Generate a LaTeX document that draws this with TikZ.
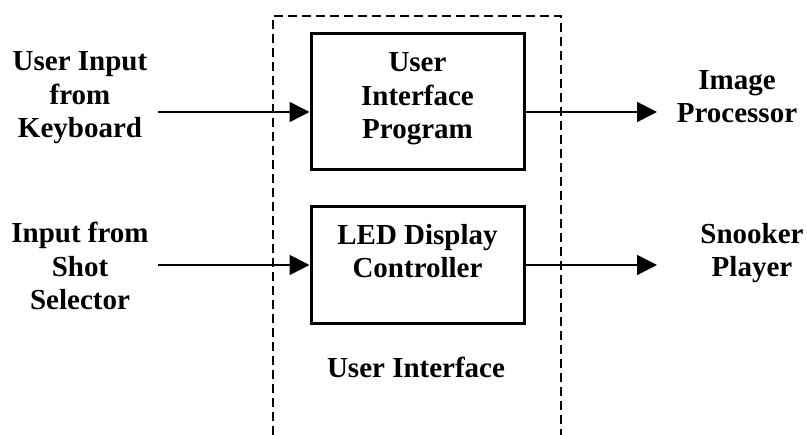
\documentclass[tikz,border=0pt]{standalone}
\usepackage{fontspec}
\setmainfont{Liberation Serif}
\usetikzlibrary{arrows.meta}
\begin{document}
\begin{tikzpicture}[x=1pt,y=-1pt,
  lbl/.style={font=\bfseries\fontsize{29}{33.5}\selectfont, align=center, inner sep=0pt, anchor=base},
  blk/.style={draw, line width=3pt, minimum width=213pt, minimum height=#1, inner sep=0pt},
  arr/.style={line width=1.6pt, -{Triangle[length=20pt,width=20pt]}},
  dsh/.style={line width=1.6pt, dash pattern=on 9pt off 5pt}]
\useasboundingbox (0,0) rectangle (807,435);
% dashed enclosure (open at the bottom)
\draw[dsh] (273,435) -- (273,16) -- (561,16) -- (561,435);
% blocks
\node[blk=136pt] (ui) at (417.5,102) {};
\node[blk=117pt] (led) at (417.5,265.5) {};
% texts (anchored at the baseline of their last line)
\node[lbl] (uit) at (417.5,139) {User\\Interface\\Program};
\node[lbl] (ledt) at (417.5,278) {LED Display\\Controller};
\node[lbl] (kb) at (80,138) {User Input\\from\\Keyboard};
\node[lbl] (ss) at (80,310) {Input from\\Shot\\Selector};
\node[lbl] (ip) at (737,123) {Image\\Processor};
\node[lbl] (sp) at (752,277) {Snooker\\Player};
\node[lbl] (uif) at (416,378) {User Interface};
% connector ends
\coordinate (kbo) at (158,112);
\coordinate (sso) at (158,265);
\coordinate (ipi) at (657,112);
\coordinate (spi) at (657,265);
\draw[arr] (kbo) -- (kbo -| ui.west);
\draw[arr] (sso) -- (sso -| led.west);
\draw[arr] (ipi -| ui.east) -- (ipi);
\draw[arr] (spi -| led.east) -- (spi);
\end{tikzpicture}
\end{document}
